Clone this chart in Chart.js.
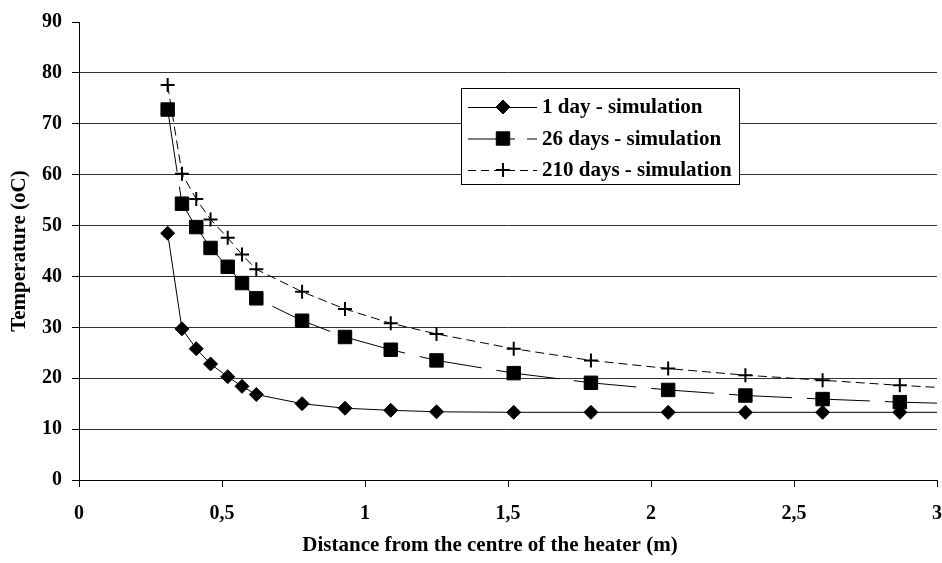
<!DOCTYPE html>
<html>
<head>
<meta charset="utf-8">
<script src="https://cdn.jsdelivr.net/npm/chart.js@4/dist/chart.umd.min.js"></script>
<style>
  html, body { margin: 0; padding: 0; background: #ffffff; }
  #wrap { width: 942px; height: 563px; }
</style>
</head>
<body>
<div id="wrap"><canvas id="c" width="942" height="563"></canvas></div>
<script>
// ---- data ----
const distances = [0.31, 0.36, 0.41, 0.46, 0.52, 0.57, 0.62, 0.78, 0.93, 1.09, 1.25, 1.52, 1.79, 2.06, 2.33, 2.60, 2.87, 3.0];
const day1   = [48.5, 29.7, 25.8, 22.8, 20.3, 18.4, 16.8, 15.0, 14.1, 13.7, 13.4, 13.3, 13.3, 13.3, 13.3, 13.3, 13.3, 13.3];
const day26  = [72.8, 54.3, 49.7, 45.6, 41.9, 38.7, 35.7, 31.3, 28.1, 25.6, 23.5, 21.0, 19.1, 17.7, 16.6, 15.9, 15.3, 15.1];
const day210 = [77.6, 60.2, 55.2, 51.2, 47.6, 44.3, 41.4, 37.0, 33.6, 30.8, 28.7, 25.8, 23.5, 21.9, 20.6, 19.6, 18.6, 18.2];
const markerShown = [1, 1, 1, 1, 1, 1, 1, 1, 1, 1, 1, 1, 1, 1, 1, 1, 1, 0];
const seriesNames = ['1 day - simulation', '26 days - simulation', '210 days - simulation'];
const xTitle = 'Distance from the centre of the heater (m)';
const yTitle = 'Temperature (oC)';
const xMin = 0, xMax = 3, xStep = 0.5;
const yMin = 0, yMax = 90, yStep = 10;

const FONT = "'Liberation Serif', 'Times New Roman', serif";
const pts = (ys) => distances.map((x, i) => ({ x: x, y: ys[i] }));
const radii = (r) => markerShown.map(m => m ? r : 0);

const styles = [
  { pointStyle: 'rectRot', radius: 7, dash: [], pbw: 1, legendDash: [] },
  { pointStyle: 'rect', radius: 9.5, dash: [63, 15], pbw: 1, legendDash: [47, 12] },
  { pointStyle: 'cross', radius: 7, dash: [9, 5], pbw: 2, legendDash: [8, 5] }
];

const datasets = [day1, day26, day210].map((ys, i) => ({
  label: seriesNames[i],
  data: pts(ys),
  borderColor: '#000',
  backgroundColor: '#000',
  borderWidth: 1,
  borderDash: styles[i].dash,
  pointStyle: styles[i].pointStyle,
  pointRadius: radii(styles[i].radius),
  pointBorderWidth: styles[i].pbw,
  pointBorderColor: '#000',
  pointBackgroundColor: '#000',
  tension: 0,
  showLine: true
}));

const overlay = {
  id: 'overlay',
  afterDraw(chart) {
    const ctx = chart.ctx;
    ctx.save();
    // x-axis title
    ctx.font = 'bold 21px ' + FONT;
    ctx.fillStyle = '#000';
    ctx.textAlign = 'center';
    ctx.textBaseline = 'middle';
    ctx.fillText(xTitle, 490, 546);
    // legend box
    const bx = 461, by = 88, bw = 278, bh = 96;
    ctx.fillStyle = '#fff';
    ctx.fillRect(bx, by, bw, bh);
    ctx.strokeStyle = '#000';
    ctx.lineWidth = 1;
    ctx.strokeRect(bx + 0.5, by + 0.5, bw, bh);
    const rows = [107, 138.5, 170];
    chart.data.datasets.forEach((ds, i) => {
      const y = rows[i];
      ctx.save();
      ctx.strokeStyle = '#000';
      ctx.lineWidth = 1;
      ctx.setLineDash(styles[i].legendDash);
      ctx.beginPath();
      ctx.moveTo(468, y + 0.5);
      ctx.lineTo(537, y + 0.5);
      ctx.stroke();
      ctx.restore();
      ctx.save();
      ctx.fillStyle = '#000';
      ctx.strokeStyle = '#000';
      ctx.lineWidth = styles[i].pbw;
      Chart.helpers.drawPoint(ctx, { pointStyle: styles[i].pointStyle, radius: styles[i].radius, rotation: 0, borderWidth: styles[i].pbw }, 503, y);
      ctx.restore();
      ctx.fillStyle = '#000';
      ctx.font = 'bold 21px ' + FONT;
      ctx.textAlign = 'left';
      ctx.textBaseline = 'middle';
      ctx.fillText(ds.label, 542, y + 1);
    });
    ctx.restore();
  }
};

new Chart(document.getElementById('c'), {
  type: 'scatter',
  data: { datasets: datasets },
  plugins: [overlay],
  options: {
    responsive: false,
    animation: false,
    layout: { autoPadding: false, padding: { top: 20, right: 5, left: 0, bottom: 0 } },
    plugins: { legend: { display: false }, tooltip: { enabled: false }, title: { display: false } },
    scales: {
      x: {
        type: 'linear',
        min: xMin, max: xMax,
        afterFit: (s) => { s.height = 83; s.paddingRight = 0; s.paddingLeft = 0; },
        ticks: {
          stepSize: xStep,
          color: '#000',
          padding: 15,
          maxRotation: 0,
          font: { family: FONT, size: 20, weight: 'bold' },
          callback: (v) => String(v).replace('.', ',')
        },
        grid: { drawOnChartArea: false, drawTicks: true, tickLength: 7, color: '#000', tickColor: '#000' },
        border: { display: true, color: '#000', width: 1 },
        title: { display: false }
      },
      y: {
        type: 'linear',
        min: yMin, max: yMax,
        afterFit: (s) => { s.width = 79; },
        ticks: {
          stepSize: yStep,
          color: '#000',
          padding: 10,
          font: { family: FONT, size: 20, weight: 'bold' }
        },
        grid: {
          drawOnChartArea: true,
          tickLength: 7,
          color: (c) => (c.tick && c.tick.value === yMax) ? 'rgba(0,0,0,0)' : '#333',
          tickColor: '#000',
          lineWidth: 1
        },
        border: { display: true, color: '#000', width: 1 },
        title: {
          display: true,
          text: yTitle,
          color: '#000',
          font: { family: FONT, size: 21, weight: 'bold' },
          padding: { top: 7, bottom: 0 }
        }
      }
    }
  }
});
</script>
</body>
</html>
